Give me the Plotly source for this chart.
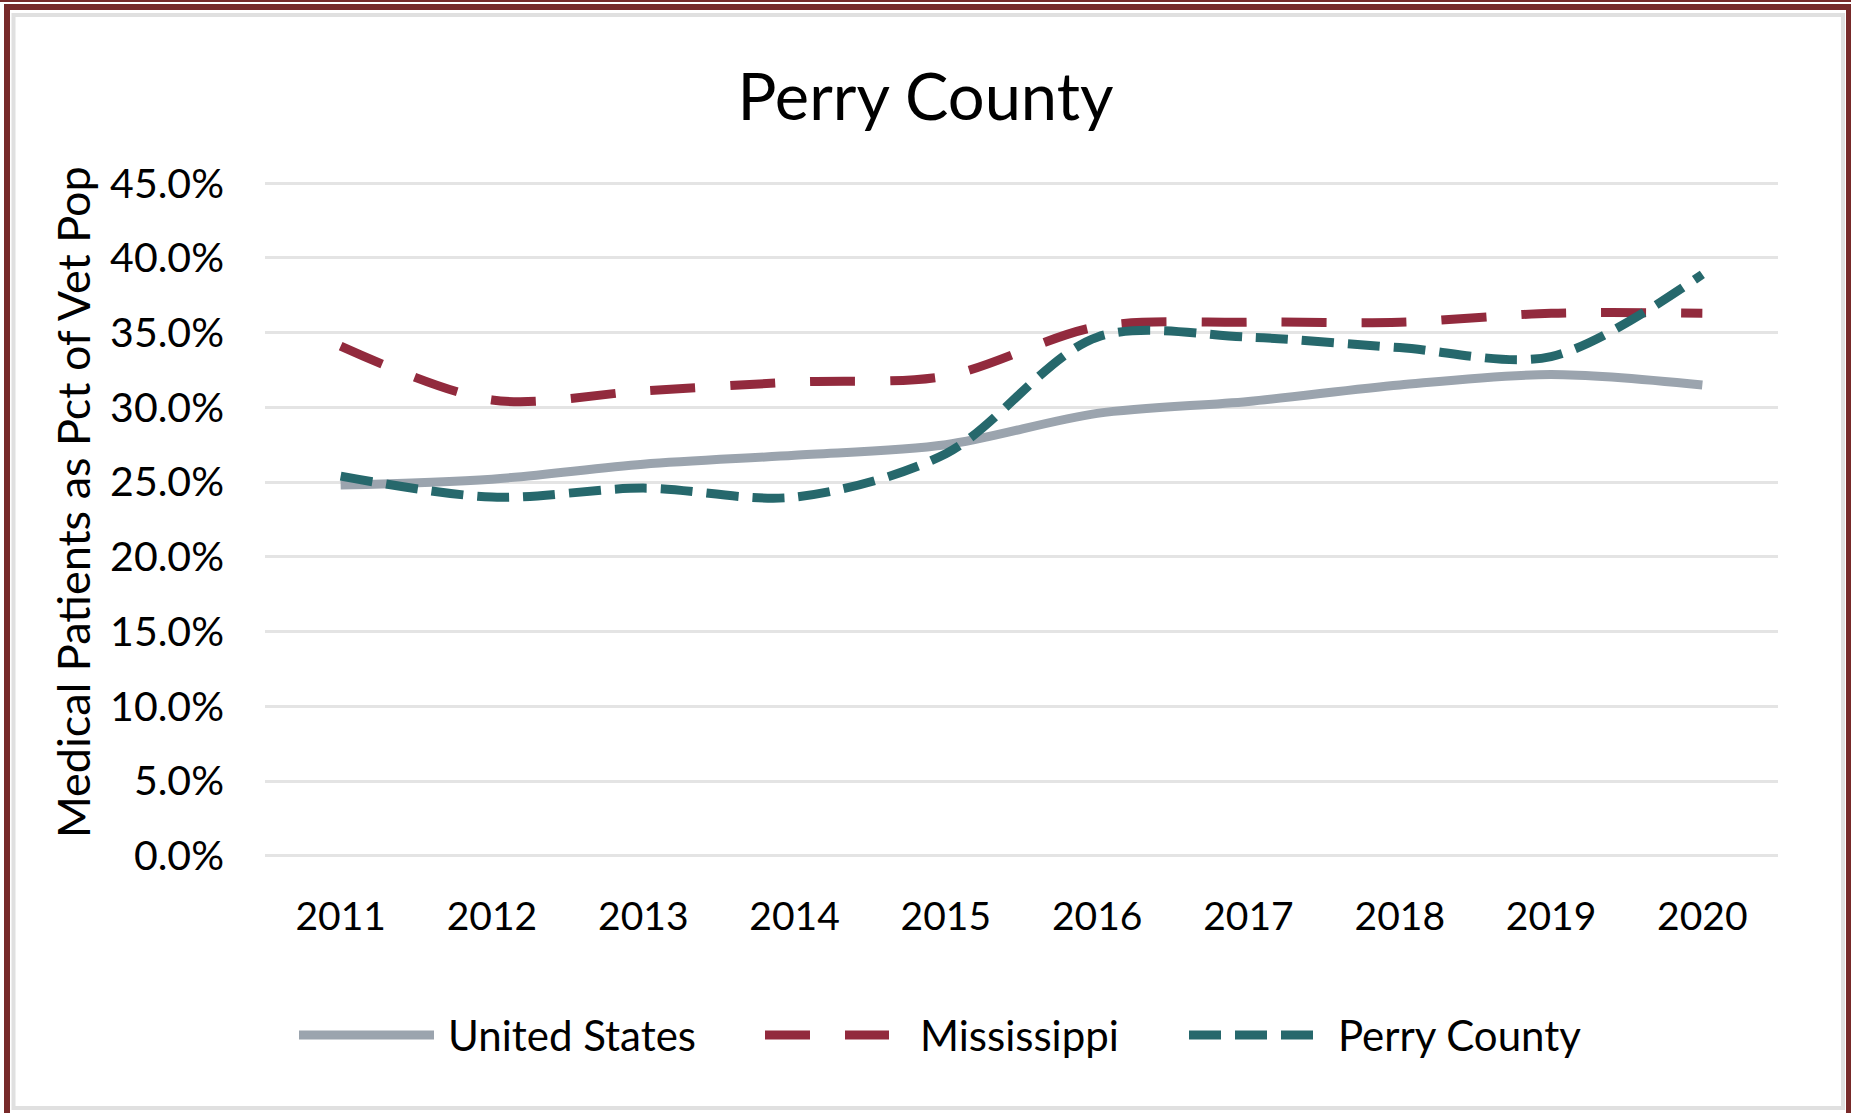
import plotly.graph_objects as go

years = ["2011", "2012", "2013", "2014", "2015", "2016", "2017", "2018", "2019", "2020"]
united_states = [24.8, 25.2, 26.2, 26.8, 27.5, 29.6, 30.4, 31.5, 32.2, 31.5]
mississippi = [34.1, 30.5, 31.1, 31.7, 32.1, 35.4, 35.7, 35.7, 36.3, 36.3]
perry_county = [25.4, 24.0, 24.6, 24.0, 26.9, 34.7, 34.7, 34.0, 33.4, 38.9]
series_names = ["United States", "Mississippi", "Perry County"]
series_colors = ["#9BA4AE", "#922A3D", "#26686C"]
series_dashes = ["solid", "45px,35px", "32px,14px"]

W, H = 1851, 1113
L, R, T, B = 265, 73, 182, 256
PW, PH = W - L - R, H - T - B
FONT = "Lato, Open Sans, sans-serif"


def px(x):
    return (x - L) / PW


def py(y):
    return (H - B - y) / PH


fig = go.Figure()
for name, vals, col, dash in zip(series_names, [united_states, mississippi, perry_county],
                                 series_colors, series_dashes):
    fig.add_trace(go.Scatter(
        x=years, y=vals, name=name, mode="lines",
        line=dict(color=col, width=9, dash=dash, shape="spline", smoothing=0.9),
        showlegend=False,
    ))

shapes = []
annotations = []
# custom legend
leg_y = 1035
leg_items = [(299, 434, 446), (765, 889, 918), (1189, 1313, 1336)]
for (x0, x1, tx), name, col, dash in zip(leg_items, series_names, series_colors, series_dashes):
    shapes.append(dict(type="line", xref="paper", yref="paper",
                       x0=px(x0), x1=px(x1), y0=py(leg_y), y1=py(leg_y),
                       line=dict(color=col, width=9, dash=dash)))
    annotations.append(dict(xref="paper", yref="paper", x=px(tx), y=py(leg_y),
                            xanchor="left", yanchor="middle", showarrow=False,
                            text=name, font=dict(family=FONT, size=42, color="#000000")))

# y axis title
annotations.append(dict(xref="paper", yref="paper", x=px(73), y=py(502),
                        xanchor="center", yanchor="middle", showarrow=False,
                        textangle=-90, text="Medical Patients as Pct of Vet Pop",
                        font=dict(family=FONT, size=45, color="#000000")))

# frame
shapes.append(dict(type="rect", xref="paper", yref="paper",
                   x0=px(7), x1=px(1849), y0=py(7), y1=py(1125),
                   line=dict(color="#772A2A", width=6)))
shapes.append(dict(type="line", xref="paper", yref="paper",
                   x0=px(0), x1=px(W), y0=py(1), y1=py(1),
                   line=dict(color="#772A2A", width=2)))
shapes.append(dict(type="rect", xref="paper", yref="paper",
                   x0=px(13.5), x1=px(1843), y0=py(15), y1=py(1108),
                   line=dict(color="#E0E0E0", width=4)))

fig.update_layout(
    width=W, height=H,
    margin=dict(l=L, r=R, t=T, b=B),
    paper_bgcolor="white", plot_bgcolor="white",
    title=dict(text="Perry County", x=0.5, xref="container", xanchor="center",
               y=1 - 97 / H, yref="container", yanchor="middle",
               font=dict(family=FONT, size=65, color="#000000")),
    shapes=shapes, annotations=annotations,
    xaxis=dict(type="category", range=[-0.5, 9.5], showgrid=False, zeroline=False,
               showline=False, ticks="", ticklabelstandoff=33,
               tickfont=dict(family=FONT, size=39, color="#000000")),
    yaxis=dict(range=[-0.08, 45.08], dtick=5, tick0=0, tickformat=".1f", ticksuffix="%",
               showgrid=True, gridcolor="#E4E4E4", gridwidth=3,
               zeroline=True, zerolinecolor="#E4E4E4", zerolinewidth=3,
               showline=False, ticks="", ticklabelstandoff=40,
               tickfont=dict(family=FONT, size=41, color="#000000")),
)

fig.write_html("out.html", config={"displayModeBar": False},
               post_script="document.body.style.margin='0';document.body.style.overflow='hidden';")
